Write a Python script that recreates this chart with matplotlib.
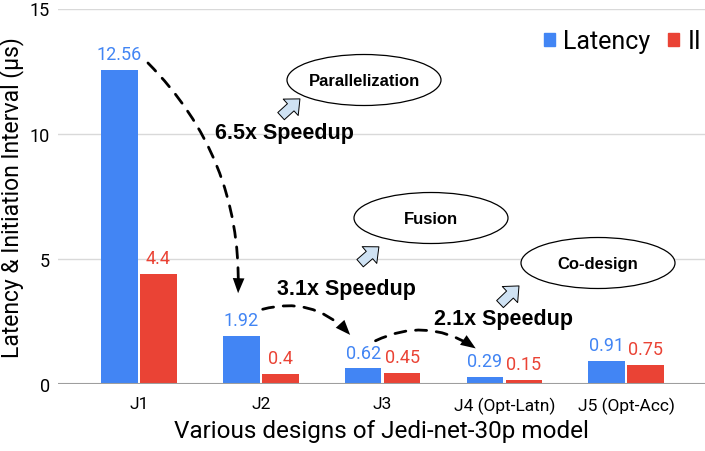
import matplotlib.pyplot as plt
import numpy as np
from matplotlib.patches import Ellipse, FancyArrowPatch, Patch

designs = ["J1", "J2", "J3", "J4 (Opt-Latn)", "J5 (Opt-Acc)"]
latency = [12.56, 1.92, 0.62, 0.29, 0.91]
ii = [4.4, 0.4, 0.45, 0.15, 0.75]
latency_labels = ["12.56", "1.92", "0.62", "0.29", "0.91"]
ii_labels = ["4.4", "0.4", "0.45", "0.15", "0.75"]

BLUE = "#4285F4"
RED = "#EA4335"
W, H = 705, 452

plt.rcParams['font.family'] = ['Roboto', 'DejaVu Sans']

fig = plt.figure(figsize=(W / 100, H / 100), dpi=100)
ax = fig.add_axes([58 / W, (H - 385) / H, (W - 58) / W, (385 - 9.5) / H])


def P(px, py):
    # pixel position (from top-left) -> figure fraction
    return (px / W, 1 - py / H)


x = np.arange(len(designs))
bw = 0.30
off = 0.16
b1 = ax.bar(x - off, latency, bw, color=BLUE, zorder=3)
b2 = ax.bar(x + off, ii, bw, color=RED, zorder=3)

for rect, lab in zip(b1, latency_labels):
    ax.annotate(lab, (rect.get_x() + rect.get_width() / 2, rect.get_height()),
                xytext=(0, 5), textcoords="offset points", ha="center", va="bottom",
                color=BLUE, fontsize=13)
for rect, lab in zip(b2, ii_labels):
    ax.annotate(lab, (rect.get_x() + rect.get_width() / 2, rect.get_height()),
                xytext=(0, 5), textcoords="offset points", ha="center", va="bottom",
                color=RED, fontsize=13)

ax.set_xlim(-0.665, 4.647)
ax.set_ylim(0, 15)
ax.set_yticks([0, 5, 10, 15])
ax.set_xticks(x)
ax.set_xticklabels(designs, fontsize=12.5)
ax.tick_params(axis="y", labelsize=13, length=0, pad=6)
ax.tick_params(axis="x", length=0, pad=9)
ax.grid(axis="y", color="#d9d9d9", lw=1, zorder=0)
ax.axhline(0, color="#9e9e9e", lw=1.5, zorder=4)
for s in ax.spines.values():
    s.set_visible(False)

ax.set_ylabel("Latency & Initiation Interval (µs)", fontsize=16.5, labelpad=4)
ax.set_xlabel("Various designs of Jedi-net-30p model", fontsize=17.5, labelpad=4)

handles = [Patch(color=BLUE, label="Latency"), Patch(color=RED, label="II")]
fig.legend(handles=handles, loc="center left", bbox_to_anchor=P(544, 42), ncol=2,
           frameon=False, fontsize=18, handlelength=0.42, handleheight=0.42,
           handletextpad=0.35, columnspacing=0.7, borderpad=0, borderaxespad=0)

bold = dict(fontsize=15.5, fontweight="bold", family=["Liberation Sans", "DejaVu Sans"],
            ha="center", va="center")
fig.text(*P(284, 133), "6.5x Speedup", **bold)
fig.text(*P(346, 290), "3.1x Speedup", **bold)
fig.text(*P(503, 319), "2.1x Speedup", **bold)

ell = [((364, 81), "Parallelization"), ((431, 219), "Fusion"), ((598, 264), "Co-design")]
for (cx, cy), lab in ell:
    e = Ellipse(P(cx, cy), 154 / W, 51 / H, transform=fig.transFigure,
                facecolor="white", edgecolor="black", lw=0.9, zorder=5)
    fig.add_artist(e)
    fig.text(*P(cx, cy), lab, fontsize=12, fontweight="bold",
             family=["Liberation Sans", "DejaVu Sans"], ha="center", va="center", zorder=6)

blocks = [((279, 119), (302, 98)), ((358, 266), (381, 246)), ((498, 307), (521, 285))]
for a, b in blocks:
    fa = FancyArrowPatch(P(*a), P(*b), transform=fig.transFigure,
                         arrowstyle="simple,head_width=1.6,head_length=0.9,tail_width=0.7",
                         mutation_scale=10, facecolor="#cfe2f3", edgecolor="black", lw=0.7,
                         zorder=7)
    fig.add_artist(fa)

curves = [((146, 62), (238, 297), -0.22), ((260, 311), (352, 338), -0.32),
          ((373, 343), (478, 351), -0.3)]
for a, b, rad in curves:
    ca = FancyArrowPatch(P(*a), P(*b), transform=fig.transFigure,
                         connectionstyle=f"arc3,rad={rad}", arrowstyle="-",
                         color="black", lw=2, linestyle=(0, (4, 3.5)), shrinkB=6)
    fig.add_artist(ca)
    hd = FancyArrowPatch(P(*a), P(*b), transform=fig.transFigure,
                         connectionstyle=f"arc3,rad={rad}",
                         arrowstyle="-|>,head_length=0.9,head_width=0.35",
                         mutation_scale=12, color="black", lw=0)
    fig.add_artist(hd)

fig.savefig("out.png", dpi=100)
